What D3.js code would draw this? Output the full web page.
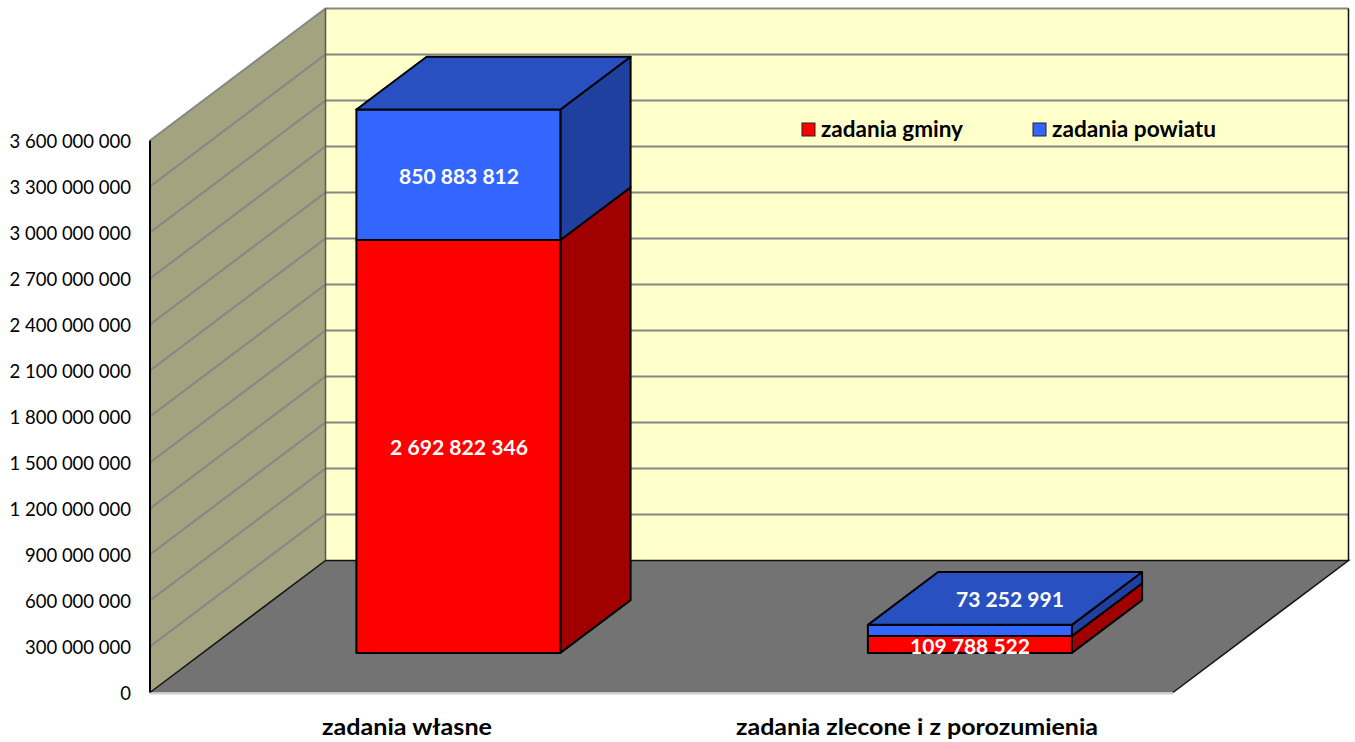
<!DOCTYPE html>
<html><head><meta charset="utf-8">
<script src="https://cdn.jsdelivr.net/npm/d3@7/dist/d3.min.js"></script>
<style>html,body{margin:0;padding:0;background:#fff}svg{display:block}text{font-family:Lato,"Open Sans",sans-serif}</style>
</head><body><svg id="c" width="1355" height="742"></svg>
<script>
const categories = ["zadania własne", "zadania zlecone i z porozumienia"];
const seriesNames = ["zadania gminy", "zadania powiatu"];
const gminy = [2692822346, 109788522];
const powiatu = [850883812, 73252991];
const tickValues = d3.range(0, 3600000001, 300000000);
const labelText = [["2 692 822 346", "109 788 522"], ["850 883 812", "73 252 991"]];

const fmt = v => d3.format(",")(v).replace(/,/g, " ");
const svg = d3.select("#c");
const y = d3.scaleLinear().domain([0, 3600000000]).range([692.5, 140.5]);
const x = d3.scaleBand().domain(categories).range([150, 1173]);
const zx = d3.scaleLinear().domain([0, 1]).range([0, 175.5]);
const zy = d3.scaleLinear().domain([0, 1]).range([0, -132]);
const P = (px, py, z) => [px + zx(z), py + zy(z)];
const line = d3.line();
const poly = (pts, fill, stroke, sw) => svg.append("path")
  .attr("d", line(pts) + "Z").attr("fill", fill)
  .attr("stroke", stroke || "none").attr("stroke-width", sw || 0).attr("stroke-linejoin", "round");

const x0 = x.range()[0], x1 = x.range()[1], yB = y(0), yT = y(3600000000);
// walls
poly([P(x0, yB, 1), P(x1, yB, 1), P(x1, yT, 1), P(x0, yT, 1)], "#FFFFCC");
poly([P(x0, yB, 0), P(x0, yB, 1), P(x0, yT, 1), P(x0, yT, 0)], "#A3A380");
// gridlines
tickValues.forEach(t => {
  if (t === 0) return;
  const a = P(x0, y(t), 0), b = P(x0, y(t), 1), c = P(x1, y(t), 1);
  svg.append("path").attr("d", line([a, b, c])).attr("fill", "none").attr("stroke", "#868686").attr("stroke-width", 2);
});
// back wall outline
svg.append("path").attr("d", line([P(x1, yT, 1), P(x1, yB, 1)])).attr("stroke", "#111").attr("stroke-width", 1.5);
svg.append("path").attr("d", line([P(x0, yT, 1), P(x0, yB, 1)])).attr("stroke", "#5a5a4a").attr("stroke-width", 1.5);
// floor
poly([P(x0, yB, 0), P(x1, yB, 0), P(x1, yB, 1), P(x0, yB, 1)], "#737373");
svg.append("path").attr("d", line([P(x0, yB, 0), P(x0, yB, 1)])).attr("stroke", "#111").attr("stroke-width", 1.5);
svg.append("path").attr("d", line([P(x1, yB, 0), P(x1, yB, 1), P(x0, yB, 1)])).attr("fill", "none").attr("stroke", "#111").attr("stroke-width", 1.5);
svg.append("path").attr("d", line([P(x0, yB, 0), P(x1, yB, 0)])).attr("stroke", "#cfcfcf").attr("stroke-width", 2).attr("transform", "translate(0,1)");
// axis line
svg.append("path").attr("d", line([[x0, yT], [x0, yB]])).attr("stroke", "#000").attr("stroke-width", 2);

// bars
const z0 = 0.3, z1 = 0.7, bw = 204;
const styles = [{f: "#FF0000", s: "#A00000", t: "#C00000"}, {f: "#3366FF", s: "#2040A0", t: "#2850C0"}];
categories.forEach((cat, i) => {
  const cx = x(cat) + x.bandwidth() / 2;
  const l = cx - bw / 2, r = cx + bw / 2;
  let base = 0;
  [gminy, powiatu].forEach((arr, k) => {
    const top = base + arr[i], st = styles[k];
    const bo = { stroke: "#000", sw: 2 };
    poly([P(r, y(base), z0), P(r, y(base), z1), P(r, y(top), z1), P(r, y(top), z0)], st.s, bo.stroke, bo.sw);
    poly([P(l, y(base), z0), P(r, y(base), z0), P(r, y(top), z0), P(l, y(top), z0)], st.f, bo.stroke, bo.sw);
    if (k === 1) poly([P(l, y(top), z0), P(r, y(top), z0), P(r, y(top), z1), P(l, y(top), z1)], st.t, bo.stroke, bo.sw);
    base = top;
  });
});

// value labels
const labelAt = [[[459, 448], [970, 647]], [[459, 177], [1010, 600]]];
const labelLen = [[138, 120], [120, 108]];
labelText.forEach((row, k) => row.forEach((s, i) => {
  svg.append("text").attr("x", labelAt[k][i][0]).attr("y", labelAt[k][i][1]).attr("dy", "0.35em")
    .attr("text-anchor", "middle").attr("font-size", 21).attr("font-weight", 700).attr("fill", "#fff")
    .attr("textLength", labelLen[k][i]).attr("lengthAdjust", "spacingAndGlyphs").text(s);
}));

// y ticks
tickValues.forEach(t => {
  svg.append("text").attr("x", 131).attr("y", y(t) + 1.5).attr("dy", "0.35em").attr("text-anchor", "end")
    .attr("font-size", 18.5).attr("fill", "#000").text(fmt(t));
});
// category labels
const catX = [407, 917], catLen = [170, 362];
categories.forEach((c, i) => {
  svg.append("text").attr("x", catX[i]).attr("y", 727).attr("dy", "0.35em").attr("text-anchor", "middle")
    .attr("font-size", 22).attr("font-weight", 700).attr("fill", "#000")
    .attr("textLength", catLen[i]).attr("lengthAdjust", "spacingAndGlyphs").text(c);
});
// legend
const legX = [802, 1033], legFill = ["#FF0000", "#3366FF"], legLen = [142, 164];
seriesNames.forEach((n, i) => {
  svg.append("rect").attr("x", legX[i]).attr("y", 123).attr("width", 13).attr("height", 13)
    .attr("fill", legFill[i]).attr("stroke", "#222").attr("stroke-width", 1);
  svg.append("text").attr("x", legX[i] + 19).attr("y", 129).attr("dy", "0.35em")
    .attr("font-size", 22).attr("font-weight", 700).attr("fill", "#000")
    .attr("textLength", legLen[i]).attr("lengthAdjust", "spacingAndGlyphs").text(n);
});
</script></body></html>
